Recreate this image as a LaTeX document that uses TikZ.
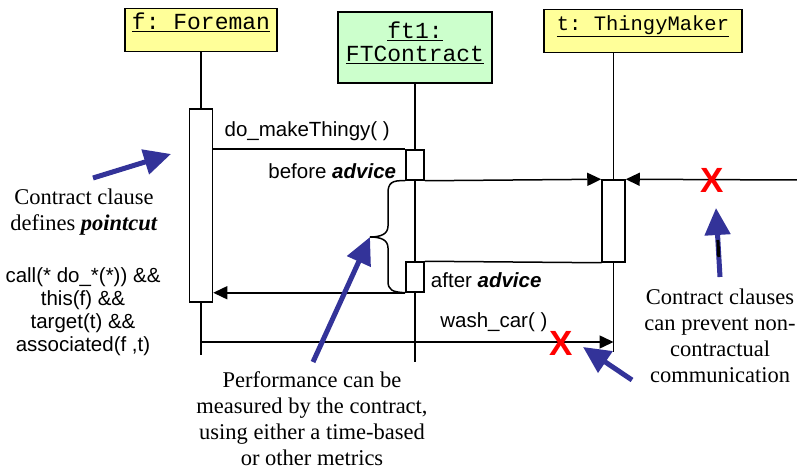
\documentclass[tikz,border=0pt]{standalone}
\usepackage{fontspec}
\setmainfont{Liberation Serif}
\setsansfont{Liberation Sans}
\setmonofont{Liberation Mono}
\usepackage{tikz}
\usetikzlibrary{arrows.meta}

\definecolor{objyellow}{RGB}{255,255,153}
\definecolor{objgreen}{RGB}{204,255,204}
\definecolor{noteblue}{RGB}{51,51,153}

\tikzset{
  objbox/.style={draw, line width=1.8pt, font=\ttfamily\fontsize{23}{23}\selectfont, inner xsep=0pt, inner ysep=4pt, align=center},
  actbox/.style={draw, fill=white, line width=1.5pt, inner sep=0pt},
  lifeline/.style={line width=1.5pt},
  msg/.style={line width=1.5pt, -{Triangle[length=14pt,width=13pt]}},
  msglabel/.style={font=\sffamily\fontsize{20.5}{23}\selectfont, inner sep=0pt},
  notetext/.style={font=\fontsize{22.5}{26}\selectfont, align=center, inner sep=0pt},
  note/.style={draw=noteblue, line width=5pt, -{Triangle[length=27pt,width=25pt]}},
  cross/.style={text=red, font=\sffamily\bfseries\fontsize{35}{35}\selectfont, inner sep=0pt}
}

\begin{document}
\begin{tikzpicture}[x=1pt, y=-1pt]
    \useasboundingbox (0,0) rectangle (797,470);

    % Draw the object heads
    \node[objbox, fill=objyellow, minimum width=152pt, text height=17pt, text depth=18pt] (fhead) at (201,30) {\underline{f: Foreman}};
    \node[objbox, fill=objgreen, minimum width=154pt, minimum height=71pt, text depth=12pt] (chead) at (415,47.5) {\underline{ft1:}\\\underline{FTContract}};
    \node[objbox, fill=objyellow, minimum width=198pt, text height=17pt, text depth=18pt, font=\ttfamily\fontsize{20.5}{23}\selectfont] (thead) at (643,31) {\underline{t: ThingyMaker}};

    % Draw the activation boxes
    \node[actbox, minimum width=23pt, minimum height=193pt] (fact) at (201,205.5) {};
    \node[actbox, minimum width=18pt, minimum height=30pt] (before) at (415,165) {};
    \node[actbox, minimum width=18pt, minimum height=30pt] (after) at (415,277) {};
    \node[actbox, minimum width=23pt, minimum height=82pt] (tact) at (613.5,221) {};

    % Ends of the lifelines and the free ends of the messages
    \coordinate (ttop) at (tact.north |- thead.south);
    \coordinate (fend) at (201,355);
    \coordinate (cend) at (415,362);
    \coordinate (tend) at (613.5,352);
    \coordinate (ext) at (797,180);
    \coordinate (wstart) at (201,342);
    \coordinate (wend) at (613.5,342);

    % Draw the lifelines
    \draw[lifeline] (fhead.south) -- (fact.north) (fact.south) -- (fend);
    \draw[lifeline] (chead.south) -- (before.north) (before.south) -- (after.north) (after.south) -- (cend);
    \draw[lifeline] (ttop) -- (tact.north) (tact.south) -- (tend);

    % Draw the messages
    \draw[lifeline] (fact.east |- before.north west) -- (before.north west)
        node[msglabel, midway, above=8pt, xshift=-2pt] {do\_makeThingy( )};
    \draw[msg] (before.south east) -- (tact.north west);
    \draw[msg] (ext) -- (tact.north east);
    \draw[lifeline] (after.north east) -- (tact.south west);
    \draw[msg] (after.south west) -- (fact.east |- after.south west);
    \draw[msg] (wstart) -- (wend)
        node[msglabel, pos=0.71, above=10pt] {wash\_car( )};

    % Advice labels
    \node[msglabel, anchor=east] (beforelbl) at ([xshift=-9pt, yshift=-6pt]before.west) {before \textbf{\textit{advice}}};
    \node[msglabel, anchor=west] (afterlbl) at ([xshift=6pt, yshift=-3pt]after.east) {after \textbf{\textit{advice}}};

    % Blocked messages
    \node[cross] (xa) at (712,180) {X};
    \node[cross] (xb) at (561,343) {X};

    % Draw the brace round the advice
    \coordinate (btip) at (370,237);
    \draw[lifeline] (before.south west) .. controls (392,180) and (388,183) .. (388,193) -- (388,226)
        .. controls (388,234) and (381,237) .. (btip)
        .. controls (381,237) and (388,240) .. (388,248) -- (388,281)
        .. controls (388,290) and (392,292) .. (after.south west);

    % Notes
    \node[notetext] (clause) at (84,212) {Contract clause\\defines \textbf{\textit{pointcut}}};
    \node[msglabel, align=center] (pcut) at (83,312) {call(* do\_*(*)) \&\&\\this(f) \&\&\\target(t) \&\&\\associated(f ,t)};
    \node[notetext] (perf) at (312,419) {Performance can be\\measured by the contract,\\using either a time-based\\or other metrics};
    \node[notetext] (prevent) at (720,336) {Contract clauses\\can prevent non-\\contractual\\communication};

    % Draw the blue pointers
    \coordinate (ctail) at (93,178);
    \coordinate (ctip) at (171,154);
    \coordinate (ptail) at (313,362);
    \coordinate (wtail) at (632,380);
    \coordinate (wtip) at (583,347);
    \coordinate (ntail) at (720,277);
    \coordinate (ntip) at (716,208);
    \draw[note] (ctail) -- (ctip);
    \draw[note] (ptail) -- (btip);
    \draw[note] (wtail) -- (wtip);
    \draw[note] (ntail) -- (ntip);
    \draw[line width=3pt] (717.9,240) -- (718.8,257);

\end{tikzpicture}
\end{document}
